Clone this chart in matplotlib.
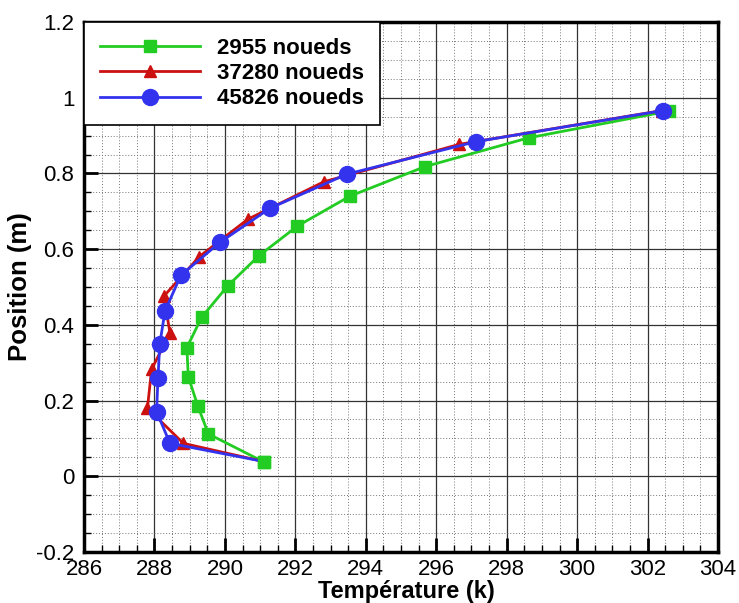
import matplotlib
matplotlib.use("Agg")
import matplotlib.pyplot as plt
from matplotlib.ticker import MultipleLocator, FuncFormatter

# Data
labels = ["2955 noueds", "37280 noueds", "45826 noueds"]

t_2955 = [291.1, 289.53, 289.23, 288.96, 288.92, 289.34, 290.08, 290.97, 292.06, 293.55, 295.68, 298.62, 302.62]
y_2955 = [0.038, 0.112, 0.186, 0.263, 0.340, 0.420, 0.503, 0.583, 0.661, 0.740, 0.818, 0.894, 0.965]

t_37280 = [291.05, 288.82, 287.80, 287.92, 288.44, 288.27, 289.27, 290.65, 292.81, 296.66, 302.4]
y_37280 = [0.040, 0.087, 0.180, 0.283, 0.378, 0.476, 0.580, 0.679, 0.778, 0.877, 0.966]

t_45826 = [291.05, 288.44, 288.06, 288.10, 288.15, 288.30, 288.75, 289.86, 291.28, 293.46, 297.13, 302.43]
y_45826 = [0.040, 0.087, 0.171, 0.259, 0.349, 0.437, 0.531, 0.618, 0.708, 0.798, 0.884, 0.966]

plt.rcParams['font.family'] = ['Liberation Sans', 'DejaVu Sans']

fig = plt.figure(figsize=(7.39, 6.03), dpi=100)
ax = fig.add_axes([0.1137, 0.0846, 0.8579, 0.8789])

green = '#22cc22'
red = '#cc1111'
blue = '#3333ee'

ax.plot(t_37280, y_37280, color=red, lw=2, marker='^', ms=8, mec=red, label=labels[1],
        markevery=list(range(1, len(t_37280))), zorder=4)
ax.plot(t_45826, y_45826, color=blue, lw=2, marker='o', ms=11.5, mec=blue, label=labels[2],
        markevery=list(range(1, len(t_45826))), zorder=5)
ax.plot(t_2955, y_2955, color=green, lw=2, marker='s', ms=8.5, mec=green, label=labels[0], zorder=3)
# green end marker drawn over the other curves at the bottom
ax.plot(t_2955[:1], y_2955[:1], ls='none', marker='s', ms=8.5, color=green, zorder=6)

ax.set_xlim(286, 304)
ax.set_ylim(-0.2, 1.2)
ax.xaxis.set_major_locator(MultipleLocator(2))
ax.xaxis.set_minor_locator(MultipleLocator(0.5))
ax.yaxis.set_major_locator(MultipleLocator(0.2))
ax.yaxis.set_minor_locator(MultipleLocator(0.05))

def yfmt(v, pos):
    s = f"{v:.1f}"
    if s in ("0.0", "-0.0"):
        return "0"
    if s == "1.0":
        return "1"
    return s
ax.yaxis.set_major_formatter(FuncFormatter(yfmt))

ax.grid(which='major', color='#333333', lw=0.9, ls='-', zorder=0)
ax.grid(which='minor', color='#777777', lw=0.7, ls=(0, (1, 2)), zorder=0)

ax.tick_params(which='major', direction='in', length=10, width=2, labelsize=16, pad=7,
               top=False, right=False)
ax.tick_params(axis='x', which='major', pad=5)
ax.tick_params(which='minor', direction='in', length=5, width=1, top=False, right=False)

for sp in ax.spines.values():
    sp.set_linewidth(2.5)
    sp.set_color('black')

ax.set_xlabel("Température (k)", fontsize=17, fontweight='bold')
ax.xaxis.set_label_coords(0.509, -0.0875)
ax.xaxis.label.set_va('baseline')
ax.set_ylabel("Position (m)", fontsize=18.5, fontweight='bold', labelpad=3)

handles, labs = ax.get_legend_handles_labels()
order = [labs.index(l) for l in labels]
leg = ax.legend([handles[i] for i in order], [labs[i] for i in order],
                loc='upper left', bbox_to_anchor=(0, 1), prop={'weight': 'bold', 'size': 16},
                frameon=True, fancybox=False, edgecolor='black', framealpha=1,
                handlelength=4.5, handletextpad=0.8, borderpad=0.7, labelspacing=0.2,
                borderaxespad=0)
leg.get_frame().set_linewidth(1.2)

fig.savefig("out.png", dpi=100)
